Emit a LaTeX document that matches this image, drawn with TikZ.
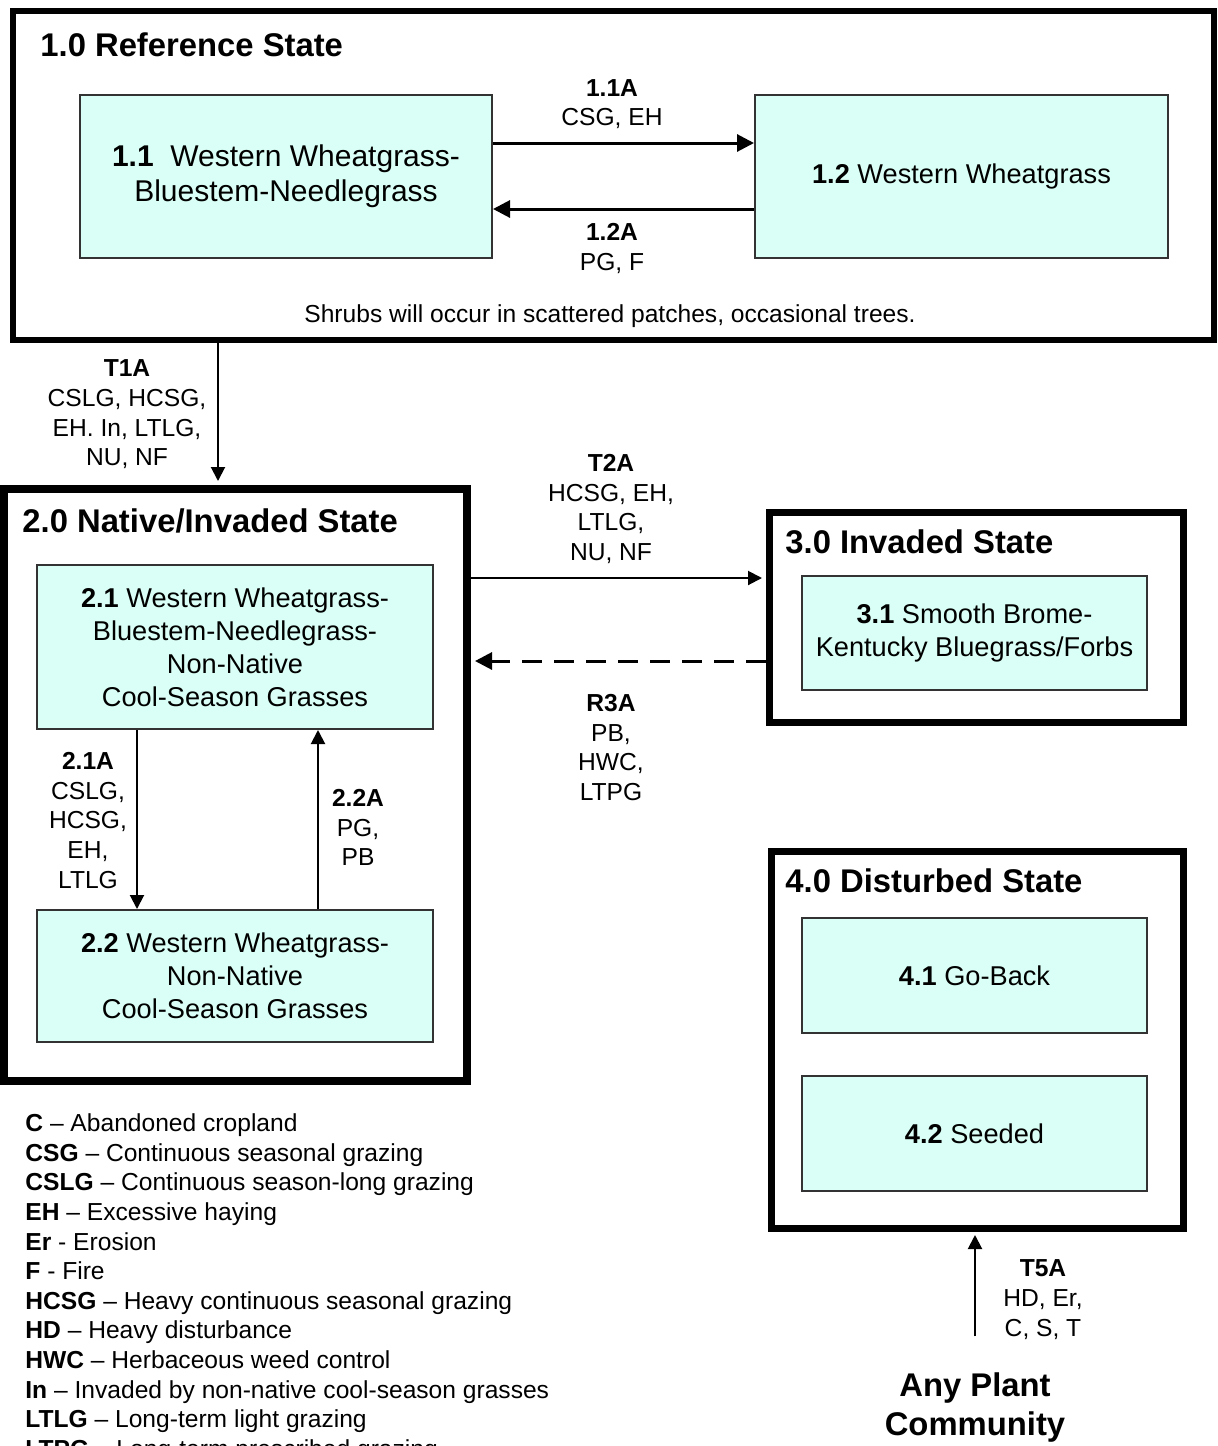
\documentclass[tikz,border=0pt]{standalone}
\usepackage{fontspec}
\setmainfont{Liberation Sans}
\usetikzlibrary{arrows.meta}
\definecolor{paleaqua}{RGB}{218,255,246}
\tikzset{
  statebox/.style={draw=black, line width=3.5pt, inner sep=0pt},
  community/.style={draw=black!80, line width=1pt, fill=paleaqua, align=center, inner sep=0pt, font=\fontsize{13.6}{16.5}\selectfont},
  title/.style={anchor=west, inner sep=0pt, font=\fontsize{16.4}{19}\selectfont\bfseries},
  lbl/.style={align=center, inner sep=0pt, font=\fontsize{12.3}{14.8}\selectfont},
  arrow/.style={line width=1pt, -{Triangle[length=7pt,width=7pt]}},
  heavyarrow/.style={line width=1.5pt, -{Triangle[length=8.5pt,width=8.5pt]}},
}

\begin{document}
\begin{tikzpicture}[x=0.5pt, y=-0.5pt]

    \useasboundingbox (0,0) rectangle (1218,1446);

    % States
    \node (s1) [statebox, line width=3pt, minimum width=600.5pt, minimum height=164.5pt] at (613.5,175.5) {};
    \node (s2) [statebox, line width=4pt, minimum width=231.5pt, minimum height=296pt] at (235.5,785) {};
    \node (s3) [statebox, minimum width=207pt, minimum height=105pt] at (976,617) {};
    \node (s4) [statebox, minimum width=206pt, minimum height=188.5pt] at (977,1039.5) {};

    \node (t1) [title] at (40,45) {1.0 Reference State};
    \node (t2) [title] at (22,521) {2.0 Native/Invaded State};
    \node (t3) [title] at (785,542) {3.0 Invaded State};
    \node (t4) [title] at (785,881) {4.0 Disturbed State};

    % Plant communities
    \node (b11) [community, font=\fontsize{15}{17.5}\selectfont, minimum width=206pt, minimum height=81.5pt] at (286,176.5)
        {\textbf{1.1}\ \ Western Wheatgrass-\\Bluestem-Needlegrass};
    \node (b12) [community, minimum width=206.5pt, minimum height=81.5pt] at (961.5,176.5)
        {\textbf{1.2} Western Wheatgrass};
    \node (b21) [community, minimum width=198pt, minimum height=82pt] at (235,647)
        {\textbf{2.1} Western Wheatgrass-\\Bluestem-Needlegrass-\\Non-Native\\Cool-Season Grasses};
    \node (b22) [community, minimum width=198pt, minimum height=66pt] at (235,976)
        {\textbf{2.2} Western Wheatgrass-\\Non-Native\\Cool-Season Grasses};
    \node (b31) [community, minimum width=172.5pt, minimum height=57pt] at (974.5,633)
        {\textbf{3.1} Smooth Brome-\\Kentucky Bluegrass/Forbs};
    \node (b41) [community, minimum width=172.5pt, minimum height=57.5pt] at (974.5,975.5)
        {\textbf{4.1} Go-Back};
    \node (b42) [community, minimum width=172.5pt, minimum height=57.5pt] at (974.5,1133.5)
        {\textbf{4.2} Seeded};

    \node (shrubs) [lbl] at (610,316) {Shrubs will occur in scattered patches, occasional trees.};

    % Pathway labels
    \node (l11a) [lbl] at (612,104) {\textbf{1.1A}\\CSG, EH};
    \node (l12a) [lbl] at (612,248.5) {\textbf{1.2A}\\PG, F};
    \node (lt1a) [lbl] at (127,414.5) {\textbf{T1A}\\CSLG, HCSG,\\EH. In, LTLG,\\NU, NF};
    \node (lt2a) [lbl] at (611,509) {\textbf{T2A}\\HCSG, EH,\\LTLG,\\NU, NF};
    \node (lr3a) [lbl] at (611,747.5) {\textbf{R3A}\\PB,\\HWC,\\LTPG};
    \node (l21a) [lbl] at (88,820.5) {\textbf{2.1A}\\CSLG,\\HCSG,\\EH,\\LTLG};
    \node (l22a) [lbl] at (358,827.5) {\textbf{2.2A}\\PG,\\PB};
    \node (lt5a) [lbl] at (1043,1299.5) {\textbf{T5A}\\HD, Er,\\C, S, T};

    \node (any) [lbl, font=\fontsize{16.4}{19.5}\selectfont\bfseries] at (975,1407.5) {Any Plant\\Community};

    % Arrows within states
    \draw [heavyarrow] ([yshift=16.75pt]b11.east) -- ([yshift=16.75pt]b12.west);
    \draw [heavyarrow] ([yshift=-16.25pt]b12.west) -- ([yshift=-16.25pt]b11.east);
    \draw [arrow] ([xshift=-49pt]b21.south) -- ([xshift=-49pt]b22.north);
    \draw [arrow] ([xshift=41.5pt]b22.north) -- ([xshift=41.5pt]b21.south);

    % Transitions
    \coordinate (t1x) at (218,0);
    \draw [arrow, shorten >=2pt] (s1.south -| t1x) -- (s2.north -| t1x);
    \draw [arrow, shorten >=1.75pt] ([yshift=103.5pt]s2.east) -- ([yshift=19.5pt]s3.west);
    \draw [heavyarrow, line width=1.5pt, dash pattern=on 10pt off 6pt, shorten >=2pt] ([yshift=-22pt]s3.west) -- ([yshift=62pt]s2.east);
    \draw [arrow, shorten <=18pt, shorten >=1.75pt] (any.north) -- (any.north |- s4.south);

    % Key
    \begin{scope}
    \clip (0,0) rectangle (1218,1446);
    \node (key) [anchor=north west, align=left, inner sep=0pt, font=\fontsize{12.3}{14.8}\selectfont] at (25,1113.5) {%
        \textbf{C} -- Abandoned cropland\\
        \textbf{CSG} -- Continuous seasonal grazing\\
        \textbf{CSLG} -- Continuous season-long grazing\\
        \textbf{EH} -- Excessive haying\\
        \textbf{Er} - Erosion\\
        \textbf{F} - Fire\\
        \textbf{HCSG} -- Heavy continuous seasonal grazing\\
        \textbf{HD} -- Heavy disturbance\\
        \textbf{HWC} -- Herbaceous weed control\\
        \textbf{In} -- Invaded by non-native cool-season grasses\\
        \textbf{LTLG} -- Long-term light grazing\\
        \textbf{LTPG} -- Long-term prescribed grazing};
    \end{scope}

\end{tikzpicture}
\end{document}
